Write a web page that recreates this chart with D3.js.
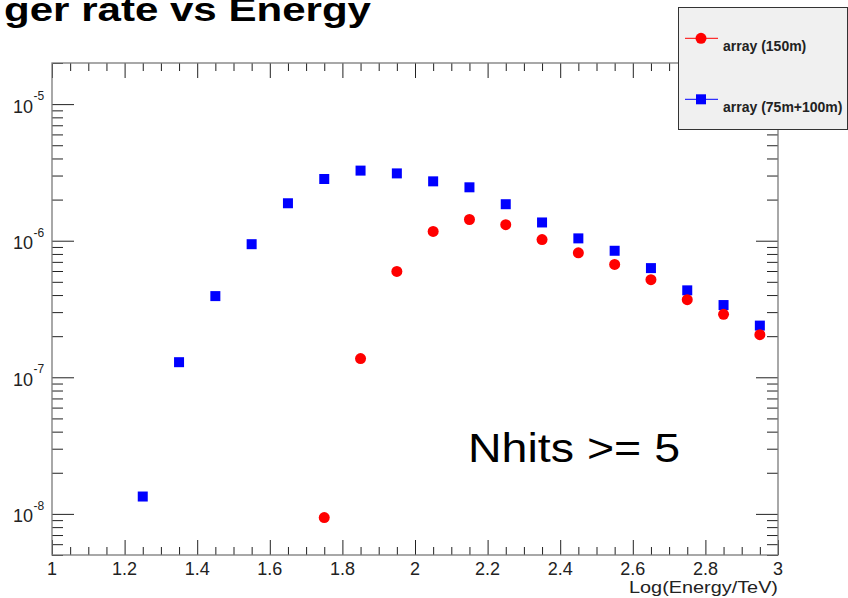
<!DOCTYPE html>
<html>
<head>
<meta charset="utf-8">
<script src="https://cdn.jsdelivr.net/npm/d3@7"></script>
<style>
  html, body { margin: 0; padding: 0; background: #fff; }
  svg { display: block; font-family: "Liberation Sans", Arial, sans-serif; }
</style>
</head>
<body>
<svg id="chart" width="848" height="598"></svg>
<script>
// ---- data ----
const energyBins = [1.25, 1.35, 1.45, 1.55, 1.65, 1.75, 1.85, 1.95, 2.05, 2.15, 2.25, 2.35, 2.45, 2.55, 2.65, 2.75, 2.85, 2.95];
const rate75_100 = [1.34e-8, 1.29e-7, 3.93e-7, 9.43e-7, 1.88e-6, 2.83e-6, 3.26e-6, 3.11e-6, 2.72e-6, 2.46e-6, 1.85e-6, 1.36e-6, 1.04e-6, 8.44e-7, 6.30e-7, 4.33e-7, 3.38e-7, 2.39e-7];
const energyBins150 = [1.75, 1.85, 1.95, 2.05, 2.15, 2.25, 2.35, 2.45, 2.55, 2.65, 2.75, 2.85, 2.95];
const rate150 = [9.4e-9, 1.37e-7, 5.96e-7, 1.17e-6, 1.43e-6, 1.31e-6, 1.02e-6, 8.16e-7, 6.70e-7, 5.18e-7, 3.70e-7, 2.89e-7, 2.05e-7];
const xTickValues = [1, 1.2, 1.4, 1.6, 1.8, 2, 2.2, 2.4, 2.6, 2.8, 3];
const xTickLabels = ["1", "1.2", "1.4", "1.6", "1.8", "2", "2.2", "2.4", "2.6", "2.8", "3"];
const yTickValues = [1e-8, 1e-7, 1e-6, 1e-5];
const yTickExponents = ["-8", "-7", "-6", "-5"];
const seriesNames = ["array (150m)", "array (75m+100m)"];
const titleText = "ger rate vs Energy";
const xAxisTitle = "Log(Energy/TeV)";
const annotation = "Nhits >= 5";

// ---- layout ----
const L = 52, R = 778, T = 63, B = 555;
const svg = d3.select("#chart");
const x = d3.scaleLinear().domain([1, 3]).range([L, R]);
const y = d3.scaleLog().domain([5e-9, 2e-5]).range([B, T]);

// minor tick values
const xMinor = d3.range(1, 3.0001, 0.05).map(v => +v.toFixed(2)).filter(v => !xTickValues.some(t => Math.abs(t - v) < 1e-6));
const yMinor = [];
for (let e = -9; e <= -5; e++) for (let m = 2; m <= 9; m++) {
  const v = m * Math.pow(10, e);
  if (v >= 5e-9 && v <= 2e-5) yMinor.push(v);
}

const tickColor = "#222";

// axes (ticks pointing inward)
function styleAxis(g) {
  g.select(".domain").remove();
  g.selectAll(".tick line").attr("stroke", tickColor);
  g.selectAll(".tick text").remove();
}
svg.append("g").attr("transform", `translate(0,${B})`)
  .call(d3.axisBottom(x).tickValues(xTickValues).tickSizeInner(-15).tickSizeOuter(0).tickFormat("")).call(styleAxis);
svg.append("g").attr("transform", `translate(0,${B})`)
  .call(d3.axisBottom(x).tickValues(xMinor).tickSizeInner(-8).tickSizeOuter(0).tickFormat("")).call(styleAxis);
svg.append("g").attr("transform", `translate(0,${T})`)
  .call(d3.axisTop(x).tickValues(xTickValues).tickSizeInner(-15).tickSizeOuter(0).tickFormat("")).call(styleAxis);
svg.append("g").attr("transform", `translate(0,${T})`)
  .call(d3.axisTop(x).tickValues(xMinor).tickSizeInner(-8).tickSizeOuter(0).tickFormat("")).call(styleAxis);
svg.append("g").attr("transform", `translate(${L},0)`)
  .call(d3.axisLeft(y).tickValues(yTickValues).tickSizeInner(-22).tickSizeOuter(0).tickFormat("")).call(styleAxis);
svg.append("g").attr("transform", `translate(${L},0)`)
  .call(d3.axisLeft(y).tickValues(yMinor).tickSizeInner(-11).tickSizeOuter(0).tickFormat("")).call(styleAxis);
svg.append("g").attr("transform", `translate(${R},0)`)
  .call(d3.axisRight(y).tickValues(yTickValues).tickSizeInner(-22).tickSizeOuter(0).tickFormat("")).call(styleAxis);
svg.append("g").attr("transform", `translate(${R},0)`)
  .call(d3.axisRight(y).tickValues(yMinor).tickSizeInner(-11).tickSizeOuter(0).tickFormat("")).call(styleAxis);

// frame
svg.append("rect").attr("x", L).attr("y", T).attr("width", R - L).attr("height", B - T)
  .attr("fill", "none").attr("stroke", "#7a7a7a").attr("stroke-width", 1.3);

// x tick labels
svg.append("g").selectAll("text").data(xTickValues).join("text")
  .attr("x", d => x(d)).attr("y", 575)
  .attr("text-anchor", "middle").attr("font-size", 18).attr("fill", "#222")
  .text((d, i) => xTickLabels[i]);

// y tick labels 10^n
const yl = svg.append("g").selectAll("g").data(yTickValues).join("g");
yl.append("text").attr("x", 33).attr("y", d => y(d) + 8.5)
  .attr("text-anchor", "end").attr("font-size", 18).attr("fill", "#222").text("10");
yl.append("text").attr("x", 33.5).attr("y", d => y(d) - 4)
  .attr("font-size", 12).attr("fill", "#222").text((d, i) => yTickExponents[i]);

// x axis title
svg.append("text").attr("x", 629).attr("y", 593).attr("font-size", 17)
  .attr("textLength", 149).attr("lengthAdjust", "spacingAndGlyphs").attr("fill", "#222").text(xAxisTitle);

// data: blue squares
const sq = 10;
svg.append("g").selectAll("rect").data(energyBins.map((e, i) => [e, rate75_100[i]])).join("rect")
  .attr("x", d => x(d[0]) - sq / 2).attr("y", d => y(d[1]) - sq / 2)
  .attr("width", sq).attr("height", sq).attr("fill", "#0000ff");
// red circles
svg.append("g").selectAll("circle").data(energyBins150.map((e, i) => [e, rate150[i]])).join("circle")
  .attr("cx", d => x(d[0])).attr("cy", d => y(d[1])).attr("r", 5.5).attr("fill", "#ff0000");

// annotation
svg.append("text").attr("x", 468).attr("y", 462).attr("font-size", 40)
  .attr("textLength", 212).attr("lengthAdjust", "spacingAndGlyphs").attr("fill", "#000").text(annotation);

// title (cropped at the top-left)
svg.append("text").attr("x", 4).attr("y", 21).attr("font-size", 34).attr("font-weight", "bold")
  .attr("textLength", 367).attr("lengthAdjust", "spacingAndGlyphs").attr("fill", "#000").text(titleText);

// legend
const lg = svg.append("g");
lg.append("rect").attr("x", 678.5).attr("y", 7.5).attr("width", 169).attr("height", 122)
  .attr("fill", "#f0f0f0").attr("stroke", "#333").attr("stroke-width", 1);
const legendItems = [
  { name: seriesNames[0], color: "#ff0000", shape: "circle", ly: 38.3 },
  { name: seriesNames[1], color: "#0000ff", shape: "square", ly: 99.3 }
];
legendItems.forEach(it => {
  lg.append("line").attr("x1", 685).attr("x2", 718).attr("y1", it.ly).attr("y2", it.ly)
    .attr("stroke", it.color).attr("stroke-width", 1);
  if (it.shape === "circle") {
    lg.append("circle").attr("cx", 701).attr("cy", it.ly).attr("r", 5.5).attr("fill", it.color);
  } else {
    lg.append("rect").attr("x", 701 - sq / 2).attr("y", it.ly - sq / 2).attr("width", sq).attr("height", sq).attr("fill", it.color);
  }
  lg.append("text").attr("x", 723).attr("y", it.ly + 12.3).attr("font-size", 14).attr("font-weight", "bold")
    .attr("fill", "#222").text(it.name);
});
</script>
</body>
</html>
